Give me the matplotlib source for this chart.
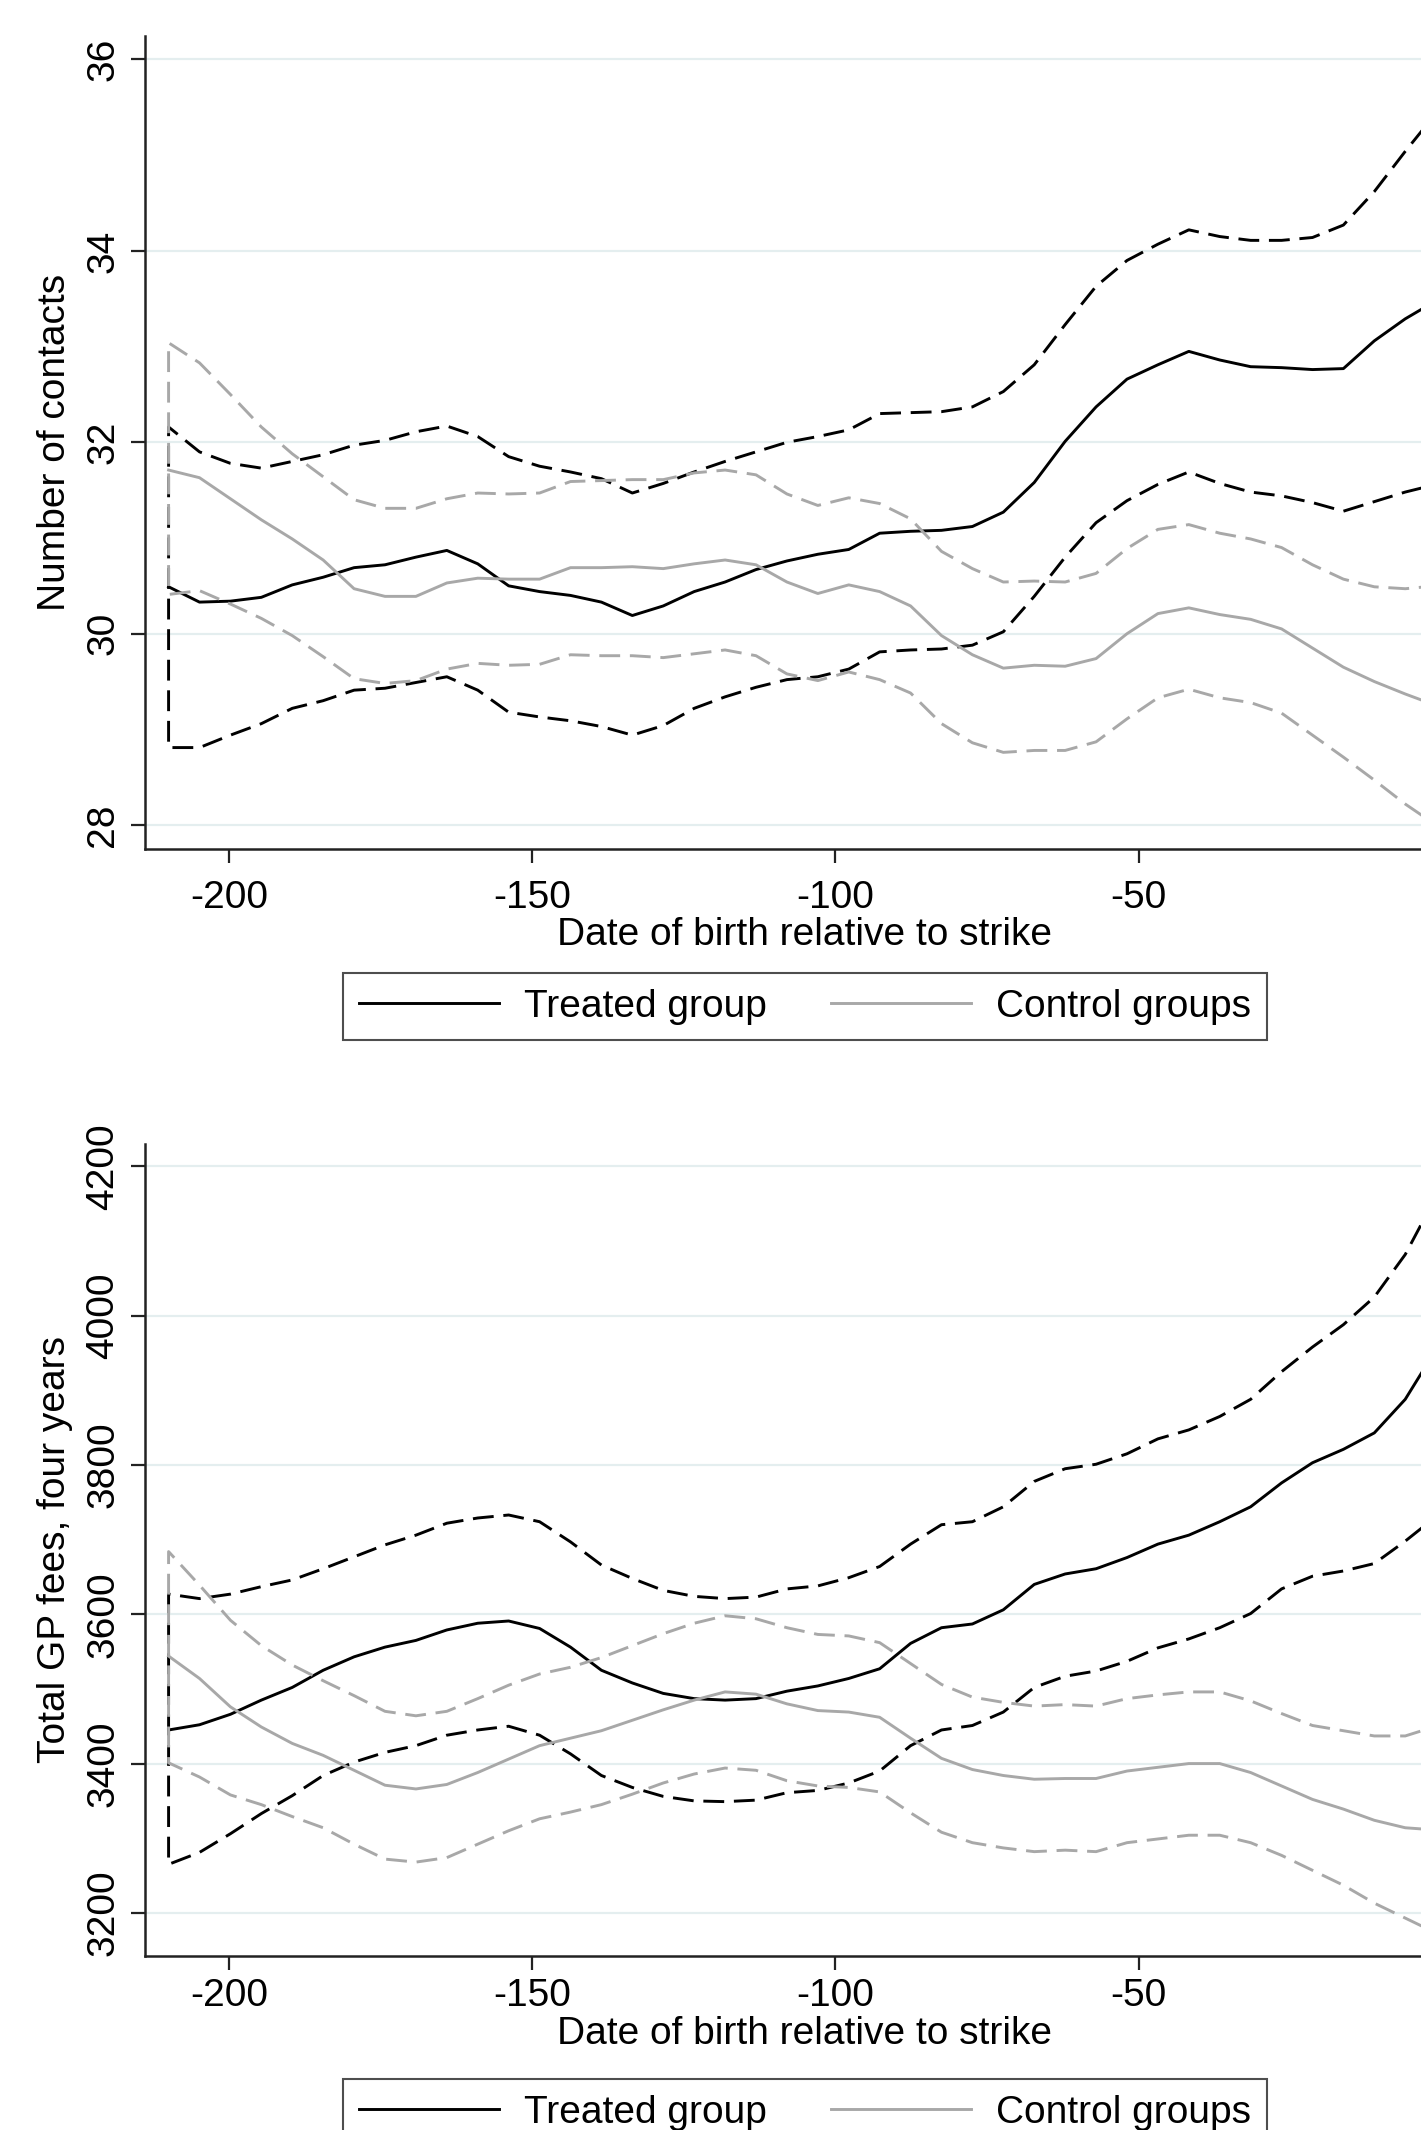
import numpy as np
import matplotlib
matplotlib.use("Agg")
import matplotlib.pyplot as plt
from matplotlib.lines import Line2D

plt.rcParams['font.family'] = ['Liberation Sans', 'DejaVu Sans']
plt.rcParams['lines.scale_dashes'] = False
plt.rcParams['axes.unicode_minus'] = False

# date of birth relative to strike (one point every ~5.1 days)
days = np.round(-210 + 5.1 * np.arange(42), 1)

# Panel 1: number of contacts
contacts_treat = [30.49, 30.33, 30.34, 30.38, 30.51, 30.59, 30.69, 30.72, 30.80, 30.87, 30.73,
                  30.50, 30.44, 30.40, 30.33, 30.19, 30.29, 30.44, 30.54, 30.67, 30.76,
                  30.83, 30.88, 31.05, 31.07, 31.08, 31.12, 31.27, 31.58, 32.01, 32.37,
                  32.66, 32.81, 32.95, 32.86, 32.79, 32.78, 32.76, 32.77, 33.06, 33.29, 33.48]
contacts_treat_hi = [32.16, 31.90, 31.78, 31.73, 31.80, 31.87, 31.97, 32.02, 32.11, 32.17, 32.06,
                     31.85, 31.75, 31.69, 31.62, 31.47, 31.57, 31.69, 31.80, 31.90, 32.00,
                     32.06, 32.13, 32.30, 32.31, 32.32, 32.37, 32.53, 32.81, 33.23, 33.63,
                     33.90, 34.07, 34.22, 34.15, 34.11, 34.11, 34.14, 34.27, 34.62, 35.04, 35.44]
contacts_treat_lo = [28.81, 28.81, 28.94, 29.06, 29.22, 29.30, 29.41, 29.43, 29.49, 29.55, 29.41,
                     29.18, 29.13, 29.09, 29.03, 28.94, 29.04, 29.22, 29.34, 29.44, 29.52,
                     29.55, 29.63, 29.81, 29.83, 29.84, 29.88, 30.02, 30.39, 30.80, 31.16,
                     31.39, 31.56, 31.69, 31.57, 31.48, 31.44, 31.37, 31.28, 31.38, 31.48, 31.56]
contacts_ctrl = [31.71, 31.63, 31.41, 31.19, 30.99, 30.77, 30.47, 30.39, 30.39, 30.53, 30.58,
                 30.57, 30.57, 30.69, 30.69, 30.70, 30.68, 30.73, 30.77, 30.72, 30.54,
                 30.42, 30.51, 30.44, 30.29, 29.98, 29.78, 29.64, 29.67, 29.66, 29.74,
                 30.00, 30.21, 30.27, 30.20, 30.15, 30.05, 29.85, 29.65, 29.50, 29.37, 29.25]
contacts_ctrl_hi = [33.04, 32.83, 32.50, 32.16, 31.88, 31.64, 31.40, 31.31, 31.31, 31.41, 31.47,
                    31.46, 31.47, 31.59, 31.60, 31.61, 31.61, 31.68, 31.71, 31.66, 31.46,
                    31.34, 31.42, 31.36, 31.20, 30.86, 30.68, 30.54, 30.55, 30.54, 30.63,
                    30.89, 31.09, 31.14, 31.05, 30.99, 30.90, 30.72, 30.57, 30.49, 30.47, 30.50]
contacts_ctrl_lo = [30.41, 30.45, 30.31, 30.16, 29.98, 29.76, 29.53, 29.48, 29.51, 29.63, 29.69,
                    29.67, 29.68, 29.78, 29.77, 29.77, 29.75, 29.79, 29.83, 29.77, 29.58,
                    29.51, 29.60, 29.52, 29.38, 29.06, 28.86, 28.76, 28.78, 28.78, 28.87,
                    29.11, 29.33, 29.42, 29.33, 29.28, 29.17, 28.94, 28.71, 28.47, 28.22, 28.00]

# Panel 2: total GP fees, four years
fees_treat = [3445, 3452, 3466, 3485, 3502, 3525, 3543, 3556, 3565, 3579, 3588,
              3591, 3581, 3556, 3525, 3508, 3494, 3487, 3485, 3487, 3497,
              3504, 3514, 3527, 3561, 3582, 3587, 3606, 3640, 3654, 3661,
              3676, 3694, 3706, 3724, 3744, 3776, 3803, 3821, 3843, 3888, 3955]
fees_treat_hi = [3627, 3621, 3627, 3637, 3646, 3661, 3677, 3693, 3706, 3722, 3729,
                 3733, 3724, 3697, 3666, 3648, 3632, 3624, 3621, 3623, 3634,
                 3638, 3649, 3664, 3694, 3720, 3724, 3744, 3778, 3795, 3801,
                 3815, 3835, 3847, 3865, 3888, 3925, 3958, 3988, 4025, 4082, 4160]
fees_treat_lo = [3265, 3281, 3306, 3333, 3357, 3384, 3402, 3415, 3424, 3438, 3445,
                 3450, 3438, 3413, 3384, 3368, 3356, 3350, 3349, 3351, 3361,
                 3364, 3374, 3390, 3424, 3445, 3451, 3469, 3502, 3517, 3524,
                 3537, 3555, 3567, 3582, 3601, 3634, 3651, 3658, 3668, 3698, 3731]
fees_ctrl = [3544, 3514, 3476, 3449, 3427, 3411, 3391, 3371, 3366, 3372, 3388,
             3406, 3424, 3434, 3444, 3458, 3472, 3485, 3496, 3493, 3480,
             3471, 3469, 3462, 3434, 3407, 3392, 3384, 3379, 3380, 3380,
             3390, 3395, 3400, 3400, 3388, 3370, 3352, 3339, 3324, 3314, 3311]
fees_ctrl_hi = [3684, 3639, 3592, 3558, 3532, 3511, 3491, 3470, 3464, 3470, 3487,
                3505, 3520, 3529, 3542, 3558, 3574, 3588, 3598, 3594, 3582,
                3573, 3571, 3562, 3534, 3506, 3489, 3482, 3477, 3479, 3477,
                3487, 3492, 3496, 3496, 3484, 3467, 3451, 3444, 3437, 3437, 3450]
fees_ctrl_lo = [3401, 3382, 3358, 3345, 3329, 3314, 3292, 3272, 3268, 3274, 3292,
                3310, 3326, 3335, 3345, 3359, 3374, 3386, 3394, 3391, 3377,
                3370, 3368, 3362, 3334, 3308, 3294, 3287, 3282, 3284, 3282,
                3294, 3299, 3304, 3304, 3294, 3277, 3257, 3237, 3213, 3193, 3173]

BLACK = '#000000'
GREY = '#a8a8a8'
GRID = '#e4eeef'
FS = 28
LW = 2.1
DASH = (15, 7)


def band(ax, lo, hi, color):
    # CI drawn as one path: lower bound right->left, then upper bound left->right
    xx = np.concatenate([days[::-1], days])
    yy = np.concatenate([np.asarray(lo)[::-1], np.asarray(hi)])
    ax.plot(xx, yy, color=color, lw=LW, dashes=DASH)


def panel(ax, treat, t_lo, t_hi, ctrl, c_lo, c_hi, ylim, yticks, ylabel, xpad, xlab_y):
    ax.grid(axis='y', color=GRID, lw=1.6)
    ax.set_axisbelow(True)
    band(ax, t_lo, t_hi, BLACK)
    ax.plot(days, treat, color=BLACK, lw=LW)
    band(ax, c_lo, c_hi, GREY)
    ax.plot(days, ctrl, color=GREY, lw=LW)
    ax.set_xlim(-213.9, -3.4)
    ax.set_ylim(*ylim)
    ax.set_yticks(yticks)
    ax.set_xticks([-200, -150, -100, -50])
    ax.spines['top'].set_visible(False)
    ax.spines['right'].set_visible(False)
    for s in ['left', 'bottom']:
        ax.spines[s].set_linewidth(1.8)
        ax.spines[s].set_color('#222222')
    ax.tick_params(axis='both', labelsize=FS, length=10, width=1.6, color='#222222')
    ax.tick_params(axis='x', pad=xpad)
    ax.tick_params(axis='y', labelrotation=90, pad=7)
    for lab in ax.get_yticklabels():
        lab.set_va('center')
    ax.set_ylabel(ylabel, fontsize=FS)
    ax.yaxis.set_label_coords(-0.056, 0.5)
    ax.set_xlabel('Date of birth relative to strike', fontsize=FS, va='top')
    ax.xaxis.set_label_coords(0.517, xlab_y)


fig = plt.figure(figsize=(14.21, 21.30), dpi=100)
ax1 = fig.add_axes([0.102, 0.6014, 0.898, 0.3819])
ax2 = fig.add_axes([0.102, 0.0819, 0.898, 0.3810])

panel(ax1, contacts_treat, contacts_treat_lo, contacts_treat_hi,
      contacts_ctrl, contacts_ctrl_lo, contacts_ctrl_hi,
      (27.75, 36.25), [28, 30, 32, 34, 36], 'Number of contacts', 12, -0.083)
panel(ax2, fees_treat, fees_treat_lo, fees_treat_hi,
      fees_ctrl, fees_ctrl_lo, fees_ctrl_hi,
      (3142.8, 4230), [3200, 3400, 3600, 3800, 4000, 4200], 'Total GP fees, four years',
      6, -0.075)

handles = [Line2D([], [], color=BLACK, lw=LW), Line2D([], [], color=GREY, lw=LW)]
labels = ['Treated group', 'Control groups']
for top in [1 - 973 / 2130, 1 - 2079 / 2130]:
    leg = fig.legend(handles, labels, loc='upper center', bbox_to_anchor=(0.5665, top),
                     ncol=2, fontsize=FS, frameon=True, fancybox=False, shadow=False,
                     handlelength=3.6, handletextpad=0.65, columnspacing=1.65,
                     borderpad=0.4, borderaxespad=0)
    leg.get_frame().set_edgecolor('#222222')
    leg.get_frame().set_linewidth(1.5)

fig.savefig('out.png', dpi=100)
